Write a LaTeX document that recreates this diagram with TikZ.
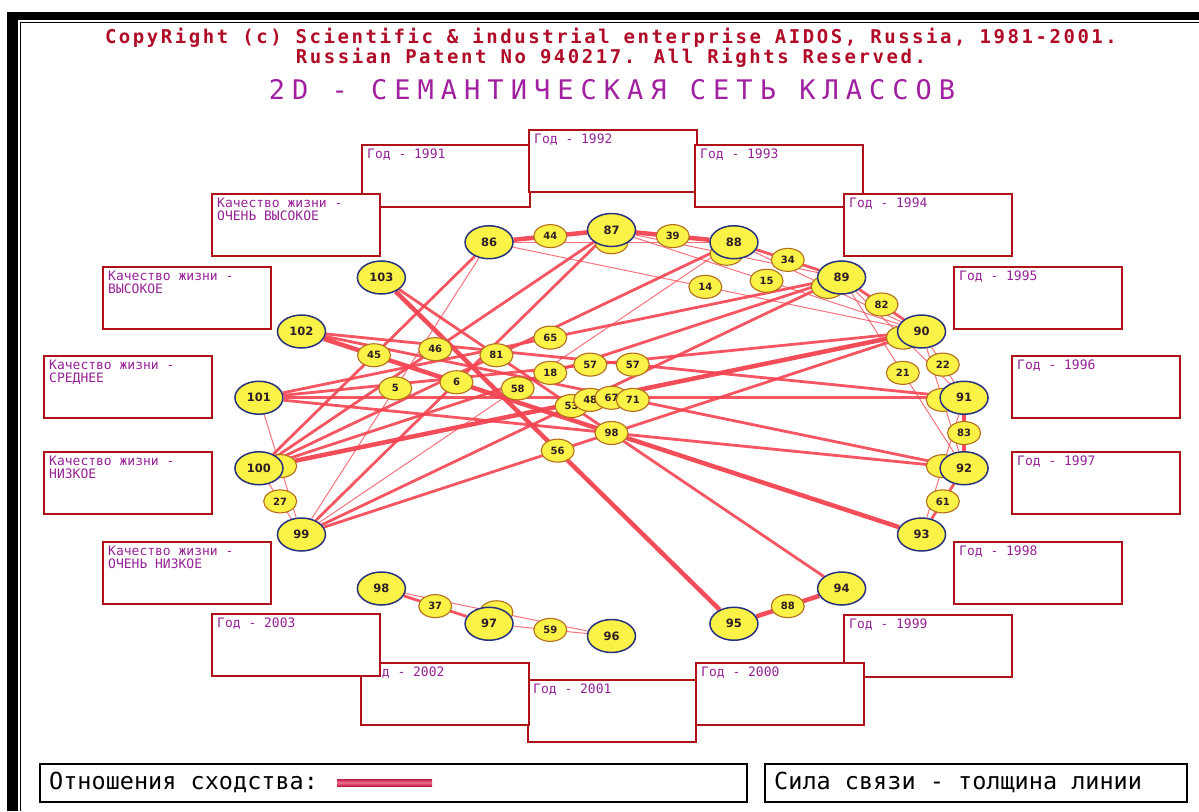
\documentclass[tikz,border=0pt]{standalone}
\usepackage{fontspec}
\setmainfont{DejaVu Sans}
\newfontfamily\monofont{DejaVu Sans Mono}
\newfontfamily\copyfont[LetterSpace=13.4]{DejaVu Sans Mono}
\newfontfamily\titlefont[LetterSpace=26]{DejaVu Sans Mono}
\usetikzlibrary{shapes.geometric,calc}

\definecolor{nodey}{RGB}{250,242,70}
\definecolor{navyb}{RGB}{40,50,125}
\definecolor{midb}{RGB}{180,110,30}
\definecolor{nodetxt}{RGB}{45,30,40}
\definecolor{edgec}{RGB}{244,68,82}
\definecolor{boxred}{RGB}{175,18,25}
\definecolor{lblpurple}{RGB}{150,35,150}
\definecolor{copyred}{RGB}{176,12,40}
\definecolor{titlepurple}{RGB}{160,32,160}
\definecolor{barred}{RGB}{190,30,70}
\definecolor{barlight}{RGB}{240,110,140}

\pgfdeclarelayer{frame}
\pgfdeclarelayer{edges}
\pgfdeclarelayer{mids}
\pgfsetlayers{frame,edges,mids,main}

% a labelled frame: name, top-left x, top-left y, text
\newcommand\labelframe[4]{%
  \node[lblbox] (#1) at (#2,#3) {};
  \node[lbltxt] (#1t) at ([shift={(6pt,-5pt)}]#1.north west) {#4};}

\begin{document}
\begin{tikzpicture}[x=1pt,y=-1pt,
  classnode/.style={ellipse, draw=navyb, line width=1.5pt, fill=nodey,
    minimum width=48pt, minimum height=33pt, inner sep=0pt,
    font=\bfseries\fontsize{11.5}{13}\selectfont, text=nodetxt},
  midnode/.style={ellipse, draw=midb, line width=1.1pt, fill=nodey,
    minimum width=33pt, minimum height=23pt, inner sep=0pt,
    font=\bfseries\fontsize{10}{11}\selectfont, text=nodetxt},
  e1/.style={draw=edgec, line width=1pt, opacity=0.75},
  e2/.style={draw=edgec, line width=2.8pt, opacity=0.9},
  e3/.style={draw=edgec, line width=4.5pt, opacity=0.95},
  lblbox/.style={rectangle, draw=boxred, line width=1.8pt, fill=white,
    minimum width=168pt, minimum height=62pt, anchor=north west, inner sep=0pt},
  lbltxt/.style={anchor=north west, inner sep=0pt, align=left, text=lblpurple,
    font=\monofont\fontsize{13}{12.5}\selectfont},
  legbox/.style={rectangle, draw=black, line width=1.5pt, fill=white,
    minimum height=38pt, anchor=north west, inner sep=0pt},
  legtxt/.style={anchor=west, inner sep=0pt, text=black,
    font=\monofont\fontsize{23.5}{26}\selectfont},
  headtxt/.style={text=copyred, inner sep=0pt,
    font=\copyfont\bfseries\fontsize{19}{20}\selectfont},
]
\useasboundingbox (0,0) rectangle (1199,811);

% window frame
\begin{pgfonlayer}{frame}
  \fill[white] (0,0) rectangle (1199,811);
  \fill[black] (7,12) rectangle (1199,811);
  \fill[white] (18,20) rectangle (1199,811);
  \draw[black, line width=1.2pt] (20.5,811) -- (20.5,22.5) -- (1199,22.5);
\end{pgfonlayer}

% headings
\node[headtxt] (copy1) at (611,38)
  {CopyRight (c) Scientific \& industrial enterprise AIDOS, Russia, 1981-2001.};
\node[headtxt] (copy2) at (611,58) {Russian Patent No 940217. All Rights Reserved.};
\node[text=titlepurple, font=\titlefont\fontsize{27}{30}\selectfont, inner sep=0pt]
  (title) at (612,90) {2D - СЕМАНТИЧЕСКАЯ СЕТЬ КЛАССОВ};

% classes on an ellipse
\foreach \k in {86,...,103}{
  \pgfmathsetmacro\ang{90-20*(\k-87)}
  \node[classnode] (n\k) at ({611.5+358*cos(\ang)},{433-203*sin(\ang)}) {\k};
}

% link strength markers at the middle of each link
\begin{pgfonlayer}{mids}
  \foreach \a/\b/\nm in {86/88/h1,87/89/h2,88/90/h3,89/91/h4,90/92/h5,91/93/h6,96/98/h7,99/101/h8}
    \node[midnode] (\nm) at ($(n\a)!0.5!(n\b)$) {};
  \foreach \a/\b/\nm/\v in {86/87/m44/44,87/88/m39/39,88/89/m34/34,89/90/m82/82,
      90/91/m22/22,91/92/m83/83,92/93/m61/61,94/95/m88/88,96/97/m59/59,97/98/m37/37,
      99/100/m27/27,86/90/m14/14,87/90/m15/15,89/92/m21/21,86/100/m45/45,87/100/m46/46,
      86/99/m5/5,87/99/m6/6,88/100/m81/81,89/101/m65/65,89/100/m18/18,88/99/m58/58,
      90/101/m57a/57,91/102/m57b/57,89/99/m53/53,90/100/m48/48,91/101/m67/67,
      92/102/m71/71,95/103/m56/56,93/102/m98/98}
    \node[midnode] (\nm) at ($(n\a)!0.5!(n\b)$) {\v};
\end{pgfonlayer}

% links, thickness = strength
\begin{pgfonlayer}{edges}
  \foreach \a/\b in {90/91,96/97,99/100,86/88,87/89,88/90,89/91,90/92,91/93,96/98,
      99/101,86/90,87/90,89/92,86/99,88/99}
    \draw[e1] (n\a) -- (n\b);
  \foreach \a/\b in {88/89,89/90,92/93,97/98,86/100,87/100,87/99,88/100,89/101,
      89/100,90/101,91/102,89/99,91/101,92/102,94/103,92/101,90/99}
    \draw[e2] (n\a) -- (n\b);
  \foreach \a/\b in {86/87,87/88,91/92,94/95,90/100,93/102,95/103}
    \draw[e3] (n\a) -- (n\b);
\end{pgfonlayer}

% class labels
\labelframe{b1991}{361}{144}{Год - 1991}
\labelframe{b1992}{528}{129}{Год - 1992}
\labelframe{b1993}{694}{144}{Год - 1993}
\labelframe{b1994}{843}{193}{Год - 1994}
\labelframe{b1995}{953}{266}{Год - 1995}
\labelframe{b1996}{1011}{355}{Год - 1996}
\labelframe{b1997}{1011}{451}{Год - 1997}
\labelframe{b1998}{953}{541}{Год - 1998}
\labelframe{b1999}{843}{614}{Год - 1999}
\labelframe{b2000}{695}{662}{Год - 2000}
\labelframe{b2001}{527}{679}{Год - 2001}
\labelframe{b2002}{360}{662}{Год - 2002}
\labelframe{b2003}{211}{613}{Год - 2003}
\labelframe{q5}{102}{541}{Качество жизни -\\ОЧЕНЬ НИЗКОЕ}
\labelframe{q4}{43}{451}{Качество жизни -\\НИЗКОЕ}
\labelframe{q3}{43}{355}{Качество жизни -\\СРЕДНЕЕ}
\labelframe{q2}{102}{266}{Качество жизни -\\ВЫСОКОЕ}
\labelframe{q1}{211}{193}{Качество жизни -\\ОЧЕНЬ ВЫСОКОЕ}

% legend
\node[legbox, minimum width=707pt] (leg1) at (39,763) {};
\node[legtxt] (leg1t) at (49,782) {Отношения сходства:};
\shade[top color=barred, bottom color=barred, middle color=barlight]
  (337,779) rectangle (432,786);
\node[legbox, minimum width=422pt] (leg2) at (764,763) {};
\node[legtxt] (leg2t) at (774,782) {Сила связи - толщина линии};
\end{tikzpicture}
\end{document}
